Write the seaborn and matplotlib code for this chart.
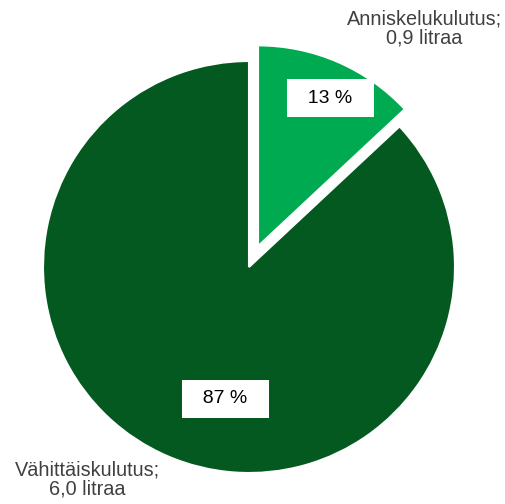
import matplotlib
matplotlib.use("Agg")
import matplotlib.pyplot as plt
import seaborn as sns

# kulutus, litraa
labels = ["Anniskelukulutus", "Vähittäiskulutus"]
litres = [0.9, 6.0]
colors = ["#00AA50", "#03591F"]

sns.set_style("white")
plt.rcParams['font.family'] = ['Liberation Sans', 'DejaVu Sans']

fig = plt.figure(figsize=(5.05, 5.04), dpi=100)
ax = fig.add_axes([0, 0, 1, 1])

wedges, _ = ax.pie(litres, colors=colors, startangle=90, counterclock=False,
                   explode=[0.11, 0], radius=1, center=(0, 0),
                   wedgeprops=dict(edgecolor="white", linewidth=1.5))
wedges[0].set_radius(0.975)

total = sum(litres)
pcts = [round(v / total * 100) for v in litres]

# prosenttilaatikot
pct_pos = [(0.395, 0.82), (-0.115, -0.64)]
for p, (x, y) in zip(pcts, pct_pos):
    ax.text(x, y, f"  {p} %  ", ha="center", va="center", fontsize=14, color="black",
            bbox=dict(facecolor="white", edgecolor="none", boxstyle="square,pad=0.55"))

# selitteet
lab_pos = [(0.85, 1.16), (-0.785, -1.03)]
for name, v, (x, y) in zip(labels, litres, lab_pos):
    txt = f"{name};\n{v:.1f} litraa".replace(".", ",")
    ax.text(x, y, txt, ha="center", va="center", fontsize=14.3, color="#404040",
            linespacing=1.0)

ax.set_xlim(-249 / 206, 256 / 206)
ax.set_ylim(-237 / 206, 267 / 206)
ax.set_aspect("auto")
ax.axis("off")

fig.savefig("out.png", dpi=100)
